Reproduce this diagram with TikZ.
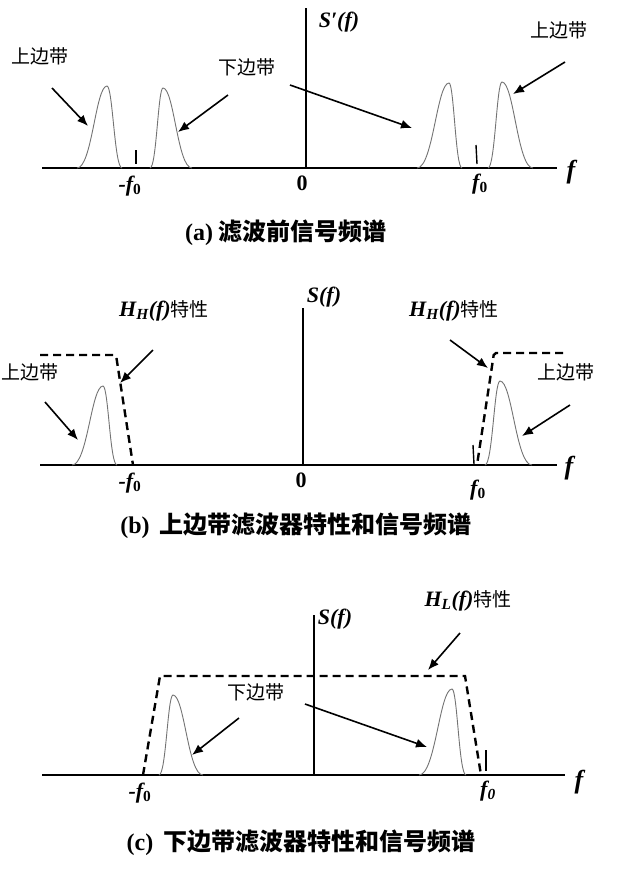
\documentclass[tikz,border=0pt]{standalone}
\usepackage{fontspec}
\setmainfont{Liberation Serif}
\newfontfamily\cjk{Noto Sans CJK SC}
\usetikzlibrary{arrows.meta}

% one sideband hump: left base x, top x, right base x, base y, top y
\newcommand{\sband}[5]{%
  \draw[band] (#1,#4) .. controls ({#1+0.5*(#2-#1)},#4) and ({#2-0.38*(#2-#1)},#5) .. (#2,#5)
    .. controls ({#2+0.38*(#3-#2)},#5) and ({#3-0.5*(#3-#2)},#4) .. (#3,#4);}

\tikzset{
  axis/.style={line width=2.2pt},
  band/.style={draw=black!55, line width=0.9pt},
  filter/.style={line width=2.4pt, dash pattern=on 8pt off 5pt},
  pointer/.style={line width=1.6pt, -{Latex[length=11pt,width=9pt]}},
  lbl/.style={font=\fontsize{19}{21}\selectfont\cjk},
  mlbl/.style={font=\fontsize{22}{24}\selectfont\bfseries\itshape},
  captext/.style={font=\fontsize{24}{27}\selectfont\bfseries}
}

\begin{document}
\begin{tikzpicture}[x=1pt,y=-1pt]
\useasboundingbox (0,0) rectangle (628,871);

% ---------- (a) ----------
\draw[axis] (42,168) -- (557,168);
\draw[axis, line width=1.8pt] (306,168) -- (306,8);
\node[mlbl] (fa) at (571,172) {\fontsize{26}{28}\selectfont f};
\node[mlbl] (Sa) at (339,22) {S′(f)};
\node[mlbl, font=\fontsize{22}{24}\selectfont\bfseries] (zeroa) at (302,183) {0};
\node[mlbl] (mfa) at (130,186) {-f\textsubscript{\upshape 0}};
\node[mlbl] (pfa) at (480,184) {f\textsubscript{\upshape 0}};
\draw[line width=1.4pt] (136,150) -- (136,164);
\draw[line width=1.4pt] (476,145) -- (477,164);
\sband{77}{107}{122}{168}{86}
\sband{150}{163}{192}{168}{88}
\sband{417}{449}{462}{168}{83}
\sband{488}{502}{533}{168}{82}
\node[lbl] (usbLa) at (40,56) {上边带};
\node[lbl] (lsba) at (247,67) {下边带};
\node[lbl] (usbRa) at (559,30) {上边带};
\coordinate (a1s) at (52,88);   \coordinate (a1e) at (88,126);
\coordinate (a2s) at (228,95);  \coordinate (a2e) at (178,132);
\coordinate (a3s) at (290,85);  \coordinate (a3e) at (412,128);
\coordinate (a4s) at (565,62);  \coordinate (a4e) at (513,94);
\foreach \s/\e in {a1s/a1e, a2s/a2e, a3s/a3e, a4s/a4e}
  \draw[pointer] (\s) -- (\e);
\node[captext] (capa) at (286,233) {(a) {\cjk 滤波前信号频谱}};

% ---------- (b) ----------
\draw[axis] (40,465) -- (557,465);
\draw[axis, line width=1.8pt] (303,465) -- (303,308);
\node[mlbl] (fb) at (569,468) {\fontsize{26}{28}\selectfont f};
\node[mlbl] (Sb) at (324,297) {S(f)};
\node[mlbl, font=\fontsize{22}{24}\selectfont\bfseries] (zerob) at (301,480) {0};
\node[mlbl] (mfb) at (130,483) {-f\textsubscript{\upshape 0}};
\node[mlbl] (pfb) at (478,490) {f\textsubscript{\upshape 0}};
\draw[line width=1.4pt] (473,445) -- (474,464);
\draw[filter, rounded corners=2pt] (40,355) -- (116,355) -- (133,465);
\draw[filter, rounded corners=2pt] (563,353) -- (494,353) -- (477,465);
\sband{72}{103}{117}{465}{386}
\sband{485}{500}{532}{465}{381}
\node[lbl] (usbLb) at (30,372) {上边带};
\node[lbl] (usbRb) at (566,372) {上边带};
\node[mlbl] (HHL) at (164,311) {H\textsubscript{H}(f){\upshape\mdseries\fontsize{19}{21}\selectfont\cjk 特性}};
\node[mlbl] (HHR) at (454,311) {H\textsubscript{H}(f){\upshape\mdseries\fontsize{19}{21}\selectfont\cjk 特性}};
\coordinate (b1s) at (45,402);  \coordinate (b1e) at (78,440);
\coordinate (b2s) at (153,350); \coordinate (b2e) at (120,383);
\coordinate (b3s) at (450,340); \coordinate (b3e) at (488,368);
\coordinate (b4s) at (570,405); \coordinate (b4e) at (522,436);
\foreach \s/\e in {b1s/b1e, b2s/b2e, b3s/b3e, b4s/b4e}
  \draw[pointer] (\s) -- (\e);
\node[captext] (capb) at (296,526) {(b)\, {\cjk 上边带滤波器特性和信号频谱}};

% ---------- (c) ----------
\draw[axis] (42,775) -- (565,775);
\draw[axis, line width=1.8pt] (314,775) -- (314,615);
\node[mlbl] (fc) at (579,782) {\fontsize{26}{28}\selectfont f};
\node[mlbl] (Sc) at (335,619) {S(f)};
\node[mlbl] (mfc) at (140,793) {-f\textsubscript{\upshape 0}};
\node[mlbl] (pfc) at (488,791) {f\textsubscript{0}};
\draw[line width=1.4pt] (486,750) -- (486,771);
\draw[filter] (143,775) -- (160,676) -- (465,676) -- (481,775);
\sband{159}{173}{203}{775}{695}
\sband{419}{452}{466}{775}{689}
\node[lbl] (lsbc) at (256,692) {下边带};
\node[mlbl] (HL) at (468,601) {H\textsubscript{L}(f){\upshape\mdseries\fontsize{19}{21}\selectfont\cjk 特性}};
\coordinate (c1s) at (239,718); \coordinate (c1e) at (192,755);
\coordinate (c2s) at (305,704); \coordinate (c2e) at (427,747);
\coordinate (c3s) at (460,633); \coordinate (c3e) at (428,670);
\foreach \s/\e in {c1s/c1e, c2s/c2e, c3s/c3e}
  \draw[pointer] (\s) -- (\e);
\node[captext] (capc) at (301,843) {(c)\, {\cjk 下边带滤波器特性和信号频谱}};
\end{tikzpicture}
\end{document}
